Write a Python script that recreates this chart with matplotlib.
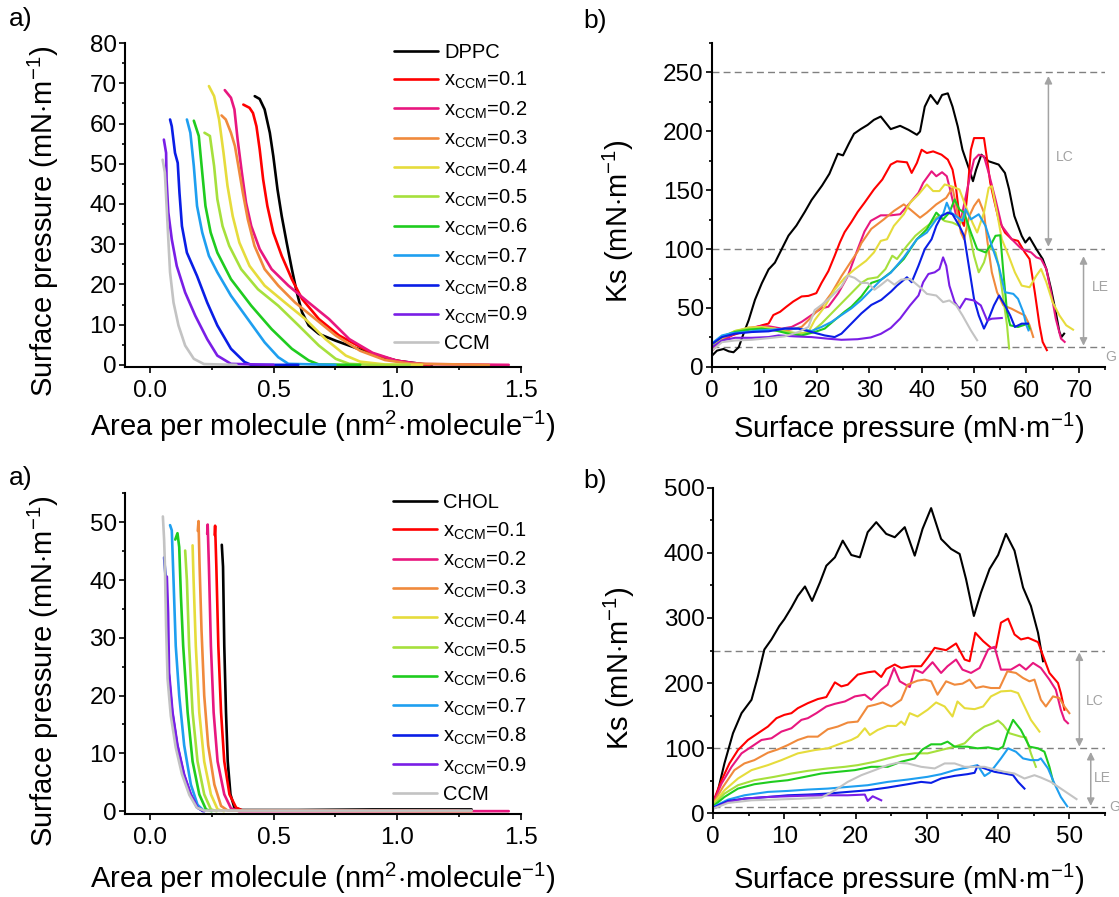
import matplotlib

matplotlib.use("Agg")

import matplotlib.pyplot as plt
from matplotlib.ticker import MultipleLocator

plt.rcParams.update({
    "font.family": ["Liberation Sans", "DejaVu Sans"],
    "mathtext.fontset": "custom",
    "mathtext.rm": "Liberation Sans",
    "mathtext.it": "Liberation Sans:italic",
    "mathtext.bf": "Liberation Sans:bold",
})

# ---- series names / colours (same order in every panel) ----
COLORS = ["#000000", "#ff0000", "#e8177f", "#f08a3c", "#e6dc3c", "#a6e03c",
          "#1fcc1f", "#1e9ff0", "#0a1ee6", "#7a1ee6", "#c3c3c3"]
MIX_LABELS = [r"x$_\mathregular{CCM}$=0.%d" % k for k in range(1, 10)]
LABELS_DPPC = ["DPPC"] + MIX_LABELS + ["CCM"]
LABELS_CHOL = ["CHOL"] + MIX_LABELS + ["CCM"]

# ---- a) top: DPPC/CCM isotherms, area (nm2/molecule) vs pressure (mN/m) ----
dppc_iso = ([0.424, 0.444, 0.464, 0.485, 0.499, 0.516, 0.533, 0.553, 0.574, 0.594, 0.615, 0.642, 0.683, 0.751, 0.85, 0.9, 1.0, 1.1, 1.14],
            [66.8, 66.1, 63.5, 57.7, 51.9, 43.6, 37.0, 30.4, 23.8, 18.0, 13.1, 9.8, 7.7, 6.0, 3.8, 2.6, 1.0, 0.2, 0.0])
dppc_x1_iso = ([0.378, 0.403, 0.417, 0.431, 0.444, 0.458, 0.475, 0.499, 0.533, 0.574, 0.615, 0.683, 0.765, 0.84, 0.9, 0.986, 1.06, 1.13],
               [64.7, 63.9, 62.6, 59.3, 53.6, 46.1, 39.5, 32.9, 27.1, 21.3, 16.4, 11.4, 7.3, 4.8, 2.8, 1.2, 0.4, 0.0])
dppc_x2_iso = ([0.303, 0.328, 0.342, 0.355, 0.372, 0.389, 0.41, 0.444, 0.492, 0.56, 0.642, 0.724, 0.806, 0.9, 1.0, 1.1, 1.45],
               [68.3, 66.4, 63.5, 56.0, 47.8, 40.3, 34.5, 28.8, 23.8, 19.7, 15.5, 11.4, 6.4, 3.0, 1.0, 0.2, 0.0])
dppc_x3_iso = ([0.29, 0.307, 0.328, 0.344, 0.358, 0.376, 0.396, 0.423, 0.464, 0.519, 0.587, 0.669, 0.751, 0.85, 0.95, 1.05, 1.37],
               [62.0, 61.0, 57.7, 54.4, 49.4, 42.8, 36.2, 29.6, 23.8, 19.7, 15.5, 11.4, 7.3, 3.5, 1.2, 0.3, 0.0])
dppc_x4_iso = ([0.239, 0.26, 0.28, 0.298, 0.314, 0.335, 0.362, 0.403, 0.464, 0.546, 0.628, 0.71, 0.792, 0.85, 0.95, 1.1],
               [69.3, 66.8, 61.0, 52.7, 44.5, 37.0, 30.4, 24.6, 19.7, 15.5, 11.4, 6.4, 2.3, 0.8, 0.1, 0.0])
dppc_x5_iso = ([0.221, 0.243, 0.26, 0.273, 0.294, 0.321, 0.369, 0.437, 0.519, 0.601, 0.683, 0.751, 0.806, 0.9, 1.05],
               [57.7, 56.9, 49.4, 41.2, 34.5, 29.6, 23.8, 18.8, 14.7, 9.8, 4.8, 1.5, 0.25, 0.0, 0.0])
dppc_x6_iso = ([0.178, 0.198, 0.212, 0.225, 0.246, 0.273, 0.328, 0.41, 0.492, 0.574, 0.642, 0.683, 0.85],
               [60.7, 56.9, 47.8, 39.5, 32.9, 27.9, 21.3, 14.7, 8.9, 4.0, 1.1, 0.1, 0.0])
dppc_x7_iso = ([0.15, 0.164, 0.178, 0.191, 0.212, 0.239, 0.273, 0.328, 0.396, 0.464, 0.519, 0.56, 0.75],
               [61.0, 57.7, 49.4, 39.5, 32.9, 27.1, 23.0, 17.2, 11.4, 5.6, 1.9, 0.25, 0.0])
dppc_x8_iso = ([0.082, 0.089, 0.102, 0.113, 0.12, 0.13, 0.15, 0.191, 0.232, 0.273, 0.328, 0.383, 0.41, 0.6],
               [61.0, 59.3, 52.7, 50.2, 42.8, 34.5, 27.9, 22.1, 15.5, 9.8, 4.0, 0.7, 0.0, 0.0])
dppc_x9_iso = ([0.057, 0.066, 0.068, 0.075, 0.089, 0.109, 0.143, 0.184, 0.232, 0.273, 0.328, 0.5],
               [56.0, 52.7, 46.0, 37.9, 31.2, 24.6, 18.0, 12.2, 6.4, 2.3, 0.25, 0.0])
ccm_iso_top = ([0.052, 0.061, 0.068, 0.075, 0.082, 0.096, 0.116, 0.143, 0.178, 0.219, 0.35],
               [51.0, 47.8, 39.5, 31.2, 23.0, 15.5, 9.8, 4.8, 1.5, 0.2, 0.0])

# ---- b) top: DPPC/CCM compressibility modulus Ks vs pressure ----
dppc_ks = ([0, 0.95, 2.2, 3.2, 4.1, 5.1, 6.0, 7.0, 8.2, 9.5, 10.8, 12.0, 13.3, 14.6, 16.1, 17.7, 19.0, 21.0, 22.4, 24.0, 25.0, 26.1, 27.1, 28.4, 29.7, 30.9, 32.2, 34.1, 35.9, 37.5, 39.1, 39.7, 40.6, 41.7, 43.0, 43.9, 45.0, 45.9, 46.9, 47.8, 49.1, 49.8, 50.4, 51.4, 52.8, 54.7, 55.9, 56.7, 57.7, 59.1, 59.8, 60.6, 61.9, 63.1, 63.8, 64.7, 65.6, 66.3, 66.7, 67.2],
           [9.5, 13.8, 15.2, 13.2, 12.4, 16.7, 28.0, 39.7, 57.0, 71.0, 82.8, 88.5, 100.0, 111.5, 120.0, 131.6, 141.7, 154.0, 164.0, 181.0, 179.6, 189.5, 198.0, 202.0, 205.5, 209.8, 212.6, 201.9, 204.7, 201.3, 197.1, 199.9, 221.0, 230.9, 223.3, 230.9, 232.3, 221.0, 204.1, 184.4, 167.5, 157.7, 167.5, 180.2, 174.6, 171.8, 164.7, 150.7, 128.1, 111.3, 105.6, 109.9, 100.0, 91.6, 83.1, 66.2, 46.5, 29.6, 25.4, 28.2])
dppc_x1_ks = ([0, 1.9, 3.8, 5.7, 7.6, 9.5, 10.8, 11.7, 13.0, 14.2, 15.5, 17.1, 18.4, 19.9, 20.9, 22.2, 23.4, 24.4, 25.3, 26.6, 27.8, 29.1, 30.9, 32.5, 34.1, 35.3, 37.2, 38.1, 39.1, 40.0, 41.0, 42.2, 43.8, 45.0, 45.9, 46.6, 47.2, 48.1, 48.8, 49.4, 50.0, 51.9, 52.5, 53.1, 53.8, 54.7, 55.9, 57.2, 58.4, 59.7, 60.6, 61.6, 62.5, 63.1, 63.9],
              [13.8, 22.4, 26.7, 29.6, 32.5, 35.3, 36.8, 44.0, 46.8, 51.1, 55.5, 59.8, 60.3, 62.6, 71.3, 81.3, 94.3, 105.7, 114.4, 123.0, 131.6, 139.4, 150.7, 159.1, 171.8, 174.6, 173.7, 164.7, 173.2, 184.4, 181.6, 183.0, 180.2, 176.0, 167.5, 150.7, 128.1, 119.7, 150.7, 184.4, 194.3, 194.3, 176.0, 156.3, 142.2, 125.3, 114.1, 108.4, 107.0, 97.2, 91.6, 63.4, 35.3, 21.2, 14.2])
dppc_x2_ks = ([0, 1.9, 4.4, 7.0, 8.9, 10.8, 13.3, 15.2, 17.1, 19.0, 20.9, 22.2, 24.1, 25.9, 27.8, 29.1, 30.3, 32.2, 34.1, 35.9, 37.8, 39.4, 40.3, 41.9, 42.8, 43.9, 44.8, 45.6, 46.6, 47.5, 49.1, 50.0, 50.9, 51.9, 52.8, 54.1, 55.3, 57.2, 59.1, 60.9, 61.9, 62.8, 63.8, 64.7, 65.6, 66.6, 67.3],
              [15.2, 23.0, 28.2, 32.5, 34.5, 34.5, 32.5, 33.9, 38.2, 44.0, 49.7, 51.1, 62.6, 77.0, 100.0, 115.0, 124.0, 128.7, 128.7, 129.6, 139.4, 147.8, 156.3, 166.1, 161.9, 165.3, 161.9, 147.8, 128.1, 125.0, 159.1, 176.0, 180.2, 178.8, 164.7, 142.2, 119.7, 108.4, 100.0, 97.2, 93.0, 91.6, 83.1, 63.4, 40.9, 24.0, 21.2])
dppc_x3_ks = ([0, 1.9, 4.4, 7.0, 9.5, 12.0, 13.9, 15.8, 17.1, 18.4, 19.6, 20.9, 22.8, 24.7, 26.6, 27.8, 28.5, 30.4, 32.8, 34.7, 36.6, 37.8, 39.7, 41.0, 42.8, 44.7, 45.9, 46.6, 47.5, 48.1, 49.1, 50.0, 50.9, 51.9, 52.5, 53.4, 54.4, 55.6, 57.2, 58.4, 59.7, 60.6, 61.3],
              [16.7, 23.9, 29.6, 33.3, 33.9, 32.5, 30.5, 32.5, 33.9, 39.7, 45.4, 51.1, 62.6, 77.0, 90.0, 98.0, 105.0, 117.2, 125.3, 132.4, 138.0, 133.8, 126.7, 131.0, 138.0, 143.6, 152.1, 136.6, 114.1, 108.4, 128.1, 136.6, 142.2, 131.0, 108.4, 80.3, 63.4, 52.2, 49.3, 46.5, 43.7, 35.3, 25.4])
dppc_x4_ks = ([0, 1.9, 4.4, 7.0, 9.5, 12.0, 13.9, 16.5, 18.4, 19.6, 21.5, 23.4, 25.3, 27.2, 29.4, 30.9, 32.2, 33.4, 34.7, 36.6, 37.8, 39.4, 41.0, 42.2, 43.4, 44.4, 45.6, 47.2, 48.4, 49.7, 50.6, 51.9, 52.8, 53.4, 54.4, 55.3, 56.6, 57.8, 59.1, 60.6, 61.9, 62.8, 63.8, 65.0, 66.3, 67.6, 68.9],
              [18.1, 24.7, 30.5, 33.3, 33.9, 32.5, 29.6, 28.2, 29.6, 39.7, 51.1, 65.5, 75.6, 82.8, 90.1, 97.2, 107.0, 108.4, 119.7, 129.6, 139.4, 146.4, 154.9, 149.3, 149.3, 154.9, 153.5, 150.7, 136.6, 122.5, 114.1, 131.0, 152.1, 153.5, 131.0, 108.4, 94.4, 80.3, 69.0, 67.6, 77.5, 83.1, 71.9, 55.0, 43.7, 35.3, 31.6])
dppc_x5_ks = ([0, 1.9, 4.4, 7.0, 9.5, 12.0, 14.6, 17.1, 19.0, 20.9, 22.8, 24.7, 26.6, 28.5, 29.7, 31.6, 33.1, 34.4, 35.3, 37.2, 38.8, 40.3, 41.9, 43.1, 44.4, 45.9, 47.2, 48.1, 49.1, 50.0, 50.9, 51.9, 52.8, 54.1, 54.7, 55.6, 56.3, 56.7],
              [19.0, 25.3, 30.5, 32.5, 32.5, 31.0, 29.6, 28.2, 29.6, 36.8, 45.4, 54.0, 62.6, 71.3, 74.7, 76.1, 83.1, 94.4, 91.6, 102.8, 111.3, 116.9, 122.5, 128.1, 123.9, 122.5, 119.7, 131.0, 114.1, 94.4, 80.3, 88.7, 102.8, 97.2, 85.9, 57.8, 35.3, 15.6])
dppc_x6_ks = ([0, 1.9, 4.4, 7.0, 9.5, 12.0, 14.6, 17.1, 19.6, 21.5, 23.4, 25.3, 26.6, 28.5, 30.4, 32.3, 34.1, 36.6, 39.1, 41.0, 42.8, 44.1, 45.3, 46.3, 47.2, 48.1, 49.4, 50.6, 52.2, 53.1, 54.1, 55.0, 55.6, 56.3, 56.9, 58.4, 60.3, 60.6],
              [19.5, 25.9, 29.6, 31.6, 32.5, 31.0, 28.2, 26.7, 29.6, 32.5, 39.7, 46.8, 51.1, 59.8, 71.3, 74.1, 80.3, 91.6, 108.4, 116.9, 131.0, 125.3, 131.0, 142.2, 133.8, 131.0, 114.1, 100.0, 97.2, 102.8, 111.3, 111.8, 80.3, 46.5, 35.3, 33.9, 36.7, 32.5])
dppc_x7_ks = ([0, 1.9, 3.8, 6.3, 8.9, 11.4, 13.9, 16.5, 19.0, 20.9, 22.8, 24.7, 26.6, 28.5, 30.4, 32.3, 34.1, 36.6, 39.1, 41.0, 42.8, 44.1, 44.8, 45.6, 46.6, 47.8, 48.4, 49.4, 50.9, 52.2, 53.4, 54.7, 55.9, 57.5, 58.4, 59.4, 60.0, 60.4],
              [20.1, 26.7, 28.7, 29.6, 31.0, 31.6, 32.5, 32.5, 30.5, 33.9, 38.2, 44.0, 49.7, 56.9, 65.5, 74.1, 79.9, 93.0, 108.4, 114.1, 125.3, 129.6, 139.4, 131.0, 128.1, 123.9, 133.8, 125.3, 129.6, 119.7, 102.8, 85.9, 63.4, 62.0, 57.8, 46.5, 35.3, 31.0])
dppc_x8_ks = ([0, 1.9, 4.4, 7.6, 10.8, 13.9, 16.5, 19.0, 21.5, 23.4, 24.7, 26.6, 28.5, 30.4, 32.3, 34.2, 35.3, 37.2, 38.1, 39.4, 40.6, 41.9, 42.8, 43.8, 45.0, 45.9, 47.2, 48.1, 49.1, 50.0, 50.9, 51.9, 52.8, 53.8, 54.8, 55.9, 56.9, 57.8, 59.1, 60.3],
              [19.5, 25.3, 28.2, 29.6, 30.2, 32.5, 32.5, 29.6, 26.7, 25.3, 28.2, 36.8, 45.4, 52.6, 56.9, 64.1, 69.0, 76.1, 71.9, 85.9, 100.0, 108.4, 119.7, 128.1, 131.0, 129.6, 119.7, 111.3, 83.1, 57.8, 43.7, 32.5, 40.9, 52.2, 60.6, 52.2, 43.7, 33.9, 36.7, 36.7])
dppc_x9_ks = ([0, 1.9, 4.4, 7.6, 10.8, 12.7, 15.8, 19.0, 22.2, 24.7, 27.8, 30.3, 32.2, 34.1, 35.9, 37.8, 39.4, 40.3, 41.3, 42.5, 43.4, 44.1, 44.7, 45.3, 46.3, 47.2, 48.4, 50.0, 51.3, 52.5, 53.4, 55.3],
              [16.7, 22.4, 24.7, 24.7, 25.3, 26.7, 25.9, 25.3, 23.9, 23.0, 23.5, 25.0, 28.0, 33.0, 41.0, 52.2, 60.6, 71.9, 78.9, 80.3, 83.1, 93.0, 85.9, 69.0, 55.0, 49.3, 57.8, 56.4, 52.2, 39.5, 40.9, 41.5])
ccm_ks_top = ([0, 1.9, 4.4, 7.6, 10.8, 13.9, 16.5, 18.4, 19.6, 20.9, 22.8, 24.7, 25.9, 27.2, 28.5, 29.7, 31.0, 32.3, 33.5, 34.8, 36.1, 37.8, 39.7, 41.0, 42.8, 44.1, 45.3, 46.6, 47.8, 49.4, 50.6],
              [13.8, 21.0, 22.4, 23.0, 24.4, 25.9, 29.6, 33.9, 48.3, 52.6, 59.8, 68.4, 77.6, 75.6, 71.3, 71.3, 65.5, 69.8, 74.1, 69.8, 74.1, 74.7, 67.6, 62.0, 60.6, 55.0, 56.4, 52.2, 43.7, 31.0, 22.6])

# ---- a) bottom: CHOL/CCM isotherms ----
chol_iso = ([0.291, 0.296, 0.301, 0.308, 0.315, 0.326, 0.342, 0.37, 0.6, 0.9, 1.3],
            [46.1, 42.3, 28.6, 17.1, 8.6, 2.9, 0.6, 0.2, 0.2, 0.3, 0.3])
chol_x1_iso = ([0.262, 0.264, 0.269, 0.277, 0.288, 0.301, 0.322, 0.349, 0.376, 0.8, 1.25],
               [47.8, 49.4, 42.3, 28.6, 17.1, 8.6, 2.9, 0.6, 0.1, 0.1, 0.1])
chol_x2_iso = ([0.232, 0.234, 0.239, 0.247, 0.258, 0.274, 0.301, 0.328, 0.36, 1.45],
               [48.0, 49.6, 42.3, 28.6, 17.1, 8.6, 2.9, 0.5, 0.0, 0.0])
chol_x3_iso = ([0.194, 0.197, 0.201, 0.209, 0.22, 0.236, 0.261, 0.288, 0.315, 1.3],
               [48.5, 50.2, 42.9, 31.4, 20.0, 11.4, 4.6, 0.9, 0.1, 0.0])
chol_x4_iso = ([0.173, 0.177, 0.186, 0.2, 0.22, 0.247, 0.274, 0.3],
               [46.0, 40.0, 28.6, 17.1, 8.6, 2.9, 0.3, 0.0])
chol_x5_iso = ([0.143, 0.15, 0.159, 0.173, 0.193, 0.22, 0.247, 0.27],
               [45.1, 40.0, 28.6, 17.1, 8.6, 2.9, 0.3, 0.0])
chol_x6_iso = ([0.103, 0.112, 0.119, 0.126, 0.135, 0.153, 0.173, 0.2, 0.227, 0.25],
               [47.0, 48.1, 45.7, 37.1, 28.6, 17.1, 8.6, 2.9, 0.3, 0.0])
chol_x7_iso = ([0.082, 0.089, 0.096, 0.105, 0.119, 0.139, 0.166, 0.193, 0.22],
               [49.5, 48.6, 40.0, 28.6, 20.0, 11.4, 4.6, 1.1, 0.0])
chol_x8_iso = ([0.058, 0.065, 0.07, 0.076, 0.09, 0.11, 0.137, 0.164, 0.19, 0.215],
               [43.9, 40.0, 32.0, 24.0, 17.3, 11.6, 6.4, 3.0, 0.7, 0.0])
chol_x9_iso = ([0.069, 0.074, 0.078, 0.092, 0.112, 0.139, 0.166, 0.193, 0.22],
               [40.6, 34.3, 24.0, 17.1, 11.4, 6.3, 2.9, 0.6, 0.0])
ccm_iso_bot = ([0.053, 0.058, 0.061, 0.066, 0.072, 0.085, 0.105, 0.13, 0.16, 0.19, 0.22, 1.3],
               [51.0, 47.0, 42.9, 32.0, 22.9, 16.5, 11.0, 6.4, 2.8, 0.6, 0.1, 0.1])

# ---- b) bottom: CHOL/CCM Ks vs pressure ----
chol_ks = ([0, 0.7, 1.6, 2.8, 4.0, 5.4, 6.3, 7.2, 8.2, 9.3, 10.0, 11.0, 11.9, 12.9, 13.9, 15.0, 15.9, 17.1, 18.2, 19.4, 20.6, 21.7, 22.9, 24.3, 25.5, 26.9, 28.3, 29.4, 30.6, 32.0, 33.4, 34.6, 35.5, 36.6, 37.6, 38.8, 40.0, 41.1, 42.3, 43.5, 44.6, 45.6, 46.3],
           [11.9, 35.0, 76.3, 122.7, 153.6, 174.2, 210.3, 251.5, 267.0, 287.6, 298.0, 316.0, 334.0, 348.5, 326.3, 354.6, 380.4, 393.3, 419.0, 396.9, 393.3, 432.0, 447.4, 429.4, 424.2, 439.7, 395.9, 437.1, 469.0, 421.6, 406.2, 398.5, 359.8, 303.1, 339.2, 375.3, 396.9, 429.4, 403.6, 346.9, 318.6, 277.3, 233.5])
chol_x1_ks = ([0, 1.2, 2.3, 3.5, 4.9, 6.3, 7.7, 8.9, 10.0, 11.0, 11.9, 13.3, 14.7, 15.9, 17.1, 18.0, 18.9, 20.3, 21.7, 22.7, 23.6, 24.3, 25.5, 26.4, 27.8, 29.2, 30.1, 31.1, 32.7, 34.1, 35.3, 36.0, 36.8, 37.9, 39.0, 39.7, 40.4, 41.4, 42.3, 43.2, 44.2, 45.6, 46.5, 47.2, 48.4, 48.8, 49.3],
              [17.0, 50.5, 76.3, 96.9, 112.4, 122.7, 133.0, 145.9, 151.0, 153.6, 161.3, 169.0, 175.3, 178.4, 201.0, 194.8, 197.4, 212.9, 216.5, 218.0, 209.3, 221.6, 228.4, 223.2, 225.8, 225.8, 238.7, 254.1, 250.5, 260.8, 236.1, 233.5, 277.3, 264.4, 254.1, 254.1, 292.8, 299.0, 274.7, 267.0, 269.6, 262.9, 236.1, 215.5, 200.0, 184.5, 158.8])
chol_x2_ks = ([0, 1.2, 2.6, 4.0, 5.4, 6.8, 8.2, 9.6, 11.0, 12.4, 13.3, 14.5, 15.9, 17.1, 18.5, 19.9, 21.3, 22.2, 23.6, 24.5, 25.4, 26.2, 27.6, 28.3, 29.4, 30.8, 32.0, 32.9, 34.1, 35.0, 36.2, 37.4, 38.6, 39.5, 40.4, 41.8, 43.0, 43.9, 44.9, 46.0, 47.2, 48.1, 48.8, 49.3, 49.8],
              [15.5, 45.4, 71.1, 91.8, 102.1, 112.4, 115.0, 125.3, 130.4, 143.3, 145.9, 153.6, 163.9, 168.0, 171.6, 179.4, 182.0, 174.2, 189.7, 197.4, 223.2, 202.6, 193.8, 220.6, 215.5, 232.0, 215.5, 225.8, 236.1, 220.6, 215.5, 223.2, 251.5, 255.7, 220.6, 220.6, 228.4, 220.6, 230.9, 223.2, 205.2, 189.7, 158.8, 143.3, 138.1])
chol_x3_ks = ([0, 1.4, 3.0, 4.4, 5.8, 7.7, 9.1, 10.5, 11.9, 13.3, 14.7, 16.1, 17.5, 18.9, 20.3, 21.7, 22.7, 23.8, 25.0, 26.4, 27.3, 28.7, 29.7, 30.6, 31.5, 32.7, 33.9, 35.0, 36.0, 36.9, 37.9, 39.0, 40.2, 41.3, 42.5, 43.5, 44.4, 45.1, 46.0, 46.7, 47.7, 48.6, 49.3, 50.0],
              [14.4, 40.2, 66.0, 76.3, 81.4, 92.8, 97.9, 104.6, 112.4, 117.5, 117.5, 128.9, 133.0, 139.2, 140.7, 163.9, 166.5, 170.1, 163.9, 174.2, 197.4, 203.6, 205.2, 202.6, 182.0, 202.6, 197.4, 199.0, 205.2, 192.3, 194.8, 192.3, 192.3, 218.0, 215.5, 207.7, 202.6, 205.2, 174.2, 163.9, 179.4, 176.8, 163.9, 153.6])
chol_x4_ks = ([0, 1.6, 3.5, 5.4, 7.7, 9.6, 11.9, 14.3, 16.1, 18.0, 19.4, 20.3, 21.3, 22.0, 23.1, 24.5, 25.7, 26.4, 26.9, 27.6, 28.7, 30.1, 31.3, 32.5, 33.6, 34.3, 35.3, 36.7, 37.9, 39.0, 40.4, 41.8, 42.8, 43.7, 44.6, 45.8],
              [13.4, 35.0, 53.1, 66.0, 73.7, 81.4, 91.8, 96.9, 99.5, 107.2, 112.4, 117.5, 130.4, 120.1, 127.8, 134.0, 134.0, 140.7, 135.6, 153.6, 148.5, 158.8, 170.1, 163.9, 148.5, 171.6, 161.3, 159.8, 163.9, 179.4, 187.1, 188.1, 184.5, 163.9, 143.3, 125.3])
chol_x5_ks = ([0, 1.6, 3.5, 5.8, 8.6, 11.0, 13.3, 16.1, 18.5, 20.3, 22.7, 24.5, 26.4, 28.3, 30.1, 32.0, 33.9, 35.3, 36.7, 38.1, 39.3, 40.0, 40.7, 41.6, 43.2, 43.9, 44.6, 45.3],
              [11.9, 29.9, 42.8, 50.5, 55.7, 60.8, 64.9, 68.6, 71.1, 73.7, 78.9, 84.0, 89.2, 91.8, 91.8, 96.9, 102.1, 107.2, 122.7, 133.0, 138.1, 142.3, 135.6, 122.7, 117.5, 116.5, 91.8, 71.1])
chol_x6_ks = ([0, 1.6, 3.5, 5.8, 8.2, 10.5, 12.9, 15.2, 17.5, 19.9, 22.2, 24.5, 26.4, 28.3, 29.4, 30.6, 32.0, 32.9, 33.9, 35.7, 37.1, 38.6, 40.0, 40.7, 41.3, 42.1, 43.2, 44.4, 45.6, 46.5, 47.2, 47.8],
              [10.3, 24.7, 37.6, 44.3, 47.9, 50.5, 55.7, 60.8, 63.4, 66.0, 71.1, 71.1, 78.9, 84.0, 97.9, 105.7, 105.7, 109.8, 102.1, 102.1, 99.5, 101.0, 97.9, 102.1, 122.7, 143.3, 127.8, 102.1, 99.5, 94.3, 71.1, 45.0])
chol_x7_ks = ([0, 2.1, 4.4, 7.7, 10.5, 13.3, 16.1, 18.9, 21.7, 24.5, 27.3, 30.1, 32.0, 33.9, 35.7, 37.1, 38.1, 38.8, 39.5, 40.4, 41.4, 42.5, 43.5, 44.6, 45.6, 46.0, 47.0, 47.9, 48.8, 49.7],
              [9.3, 20.6, 27.3, 32.5, 34.0, 36.1, 37.6, 40.2, 42.8, 47.9, 51.5, 55.7, 59.8, 66.0, 70.1, 73.7, 57.0, 62.0, 71.1, 84.0, 99.5, 94.3, 84.0, 81.4, 81.4, 84.0, 68.6, 45.4, 24.7, 10.3])
chol_x8_ks = ([0, 2.1, 4.4, 7.7, 10.5, 13.3, 16.1, 18.9, 21.7, 24.5, 27.3, 29.2, 30.6, 32.0, 33.9, 35.7, 36.7, 37.1, 38.1, 39.5, 40.9, 42.1, 42.8, 43.7],
              [8.2, 18.6, 22.2, 24.7, 27.3, 28.4, 29.9, 32.5, 35.0, 39.2, 44.3, 47.9, 46.4, 53.1, 57.2, 59.8, 61.9, 72.2, 68.6, 63.4, 60.8, 58.2, 47.9, 37.6])
chol_x9_ks = ([0, 2.1, 4.4, 7.7, 10.5, 13.3, 16.1, 18.9, 21.3, 21.7, 22.4, 23.6],
              [6.7, 17.0, 22.2, 24.7, 25.8, 26.8, 27.3, 27.3, 28.4, 18.6, 25.8, 19.6])
ccm_ks_bot = ([0, 2.1, 5.4, 8.6, 12.4, 15.2, 17.1, 18.9, 20.8, 22.7, 24.5, 25.9, 27.3, 29.2, 31.1, 32.5, 33.9, 35.3, 36.7, 38.1, 39.5, 40.9, 42.3, 43.7, 45.1, 46.0, 47.4, 48.8, 50.2, 51.0],
              [6.7, 15.5, 19.6, 20.6, 22.2, 23.7, 35.0, 47.9, 58.2, 66.0, 73.7, 77.3, 76.3, 71.1, 68.6, 76.3, 76.3, 71.1, 71.1, 71.1, 67.0, 63.4, 60.8, 53.1, 58.2, 54.6, 47.9, 37.6, 27.3, 21.4])

ISO_TOP = [dppc_iso, dppc_x1_iso, dppc_x2_iso, dppc_x3_iso, dppc_x4_iso, dppc_x5_iso,
           dppc_x6_iso, dppc_x7_iso, dppc_x8_iso, dppc_x9_iso, ccm_iso_top]
KS_TOP = [dppc_ks, dppc_x1_ks, dppc_x2_ks, dppc_x3_ks, dppc_x4_ks, dppc_x5_ks,
          dppc_x6_ks, dppc_x7_ks, dppc_x8_ks, dppc_x9_ks, ccm_ks_top]
ISO_BOT = [chol_iso, chol_x1_iso, chol_x2_iso, chol_x3_iso, chol_x4_iso, chol_x5_iso,
           chol_x6_iso, chol_x7_iso, chol_x8_iso, chol_x9_iso, ccm_iso_bot]
KS_BOT = [chol_ks, chol_x1_ks, chol_x2_ks, chol_x3_ks, chol_x4_ks, chol_x5_ks,
          chol_x6_ks, chol_x7_ks, chol_x8_ks, chol_x9_ks, ccm_ks_bot]

# phase boundaries on the Ks panels (G / LE / LC)
KS_LEVELS_TOP = [17, 100, 250]
KS_LEVELS_BOT = [10, 100, 250]

GUIDE = "#a3a3a3"
PI_LABEL = r"Surface pressure (mN$\cdot$m$^{-1}$)"
KS_LABEL = r"Ks (mN$\cdot$m$^{-1}$)"
AREA_LABEL = r"Area per molecule (nm$^2$$\cdot$molecule$^{-1}$)"


def style_axes(ax):
    for s in ("top", "right"):
        ax.spines[s].set_visible(False)
    for s in ("left", "bottom"):
        ax.spines[s].set_linewidth(1.5)
    ax.tick_params(which="both", direction="out", width=1.2, labelsize=17.5)
    ax.tick_params(which="major", length=4.5)
    ax.tick_params(which="minor", length=2.5)
    ax.tick_params(axis="x", which="both", pad=5)
    ax.tick_params(axis="y", which="both", pad=1.5)


def isotherm_panel(ax, series, labels, ymax, anchor, xlab_y, ylab_y):
    for (x, y), c, lab in zip(series, COLORS, labels):
        ax.plot(x, y, color=c, lw=1.9, label=lab, solid_capstyle="round")
    ax.set_xlim(-0.1, 1.5)
    ax.set_ylim(-0.5, ymax)
    ax.xaxis.set_major_locator(MultipleLocator(0.5))
    ax.xaxis.set_minor_locator(MultipleLocator(0.25))
    ax.yaxis.set_major_locator(MultipleLocator(10))
    ax.yaxis.set_minor_locator(MultipleLocator(5))
    ax.set_xlabel(AREA_LABEL, fontsize=21)
    ax.set_ylabel(PI_LABEL, fontsize=21)
    ax.xaxis.set_label_coords(0.5, xlab_y)
    ax.yaxis.set_label_coords(-0.162, ylab_y)
    style_axes(ax)
    ax.legend(loc="upper left", bbox_to_anchor=anchor, frameon=False, fontsize=14.5,
              handlelength=2.2, handletextpad=0.28, labelspacing=0.4,
              borderpad=0, borderaxespad=0)


def ks_panel(ax, series, levels, xmax, ymax, xstep, ystep, lc_x, le_x, texts,
             xlab_y, ylab_y):
    for (x, y), c in zip(series, COLORS):
        ax.plot(x, y, color=c, lw=1.5)
    for lvl in levels:
        ax.axhline(lvl, color="#808080", lw=1.0, ls=(0, (5, 3)), zorder=0)
    arrow = dict(arrowstyle="<|-|>", color=GUIDE, lw=1.1, mutation_scale=11,
                 shrinkA=0, shrinkB=0)
    ax.annotate("", xy=(lc_x, levels[1] + 2), xytext=(lc_x, levels[2] - 3),
                arrowprops=arrow)
    ax.annotate("", xy=(le_x, levels[0] + 1), xytext=(le_x, levels[1] - 6),
                arrowprops=arrow)
    for (tx, ty, s) in texts:
        ax.text(tx, ty, s, color=GUIDE, fontsize=10, ha="center", va="center",
                clip_on=False)
    ax.set_xlim(0, xmax)
    ax.set_ylim(0, ymax)
    ax.xaxis.set_major_locator(MultipleLocator(xstep))
    ax.xaxis.set_minor_locator(MultipleLocator(xstep / 2))
    ax.yaxis.set_major_locator(MultipleLocator(ystep))
    ax.yaxis.set_minor_locator(MultipleLocator(ystep / 2))
    ax.set_xlabel(PI_LABEL, fontsize=21)
    ax.set_ylabel(KS_LABEL, fontsize=21)
    ax.xaxis.set_label_coords(0.5, xlab_y)
    ax.yaxis.set_label_coords(-0.193, ylab_y)
    style_axes(ax)


fig = plt.figure(figsize=(11.19, 8.97), dpi=100)

ax1 = fig.add_axes([0.1117, 0.591, 0.354, 0.361])
ax2 = fig.add_axes([0.6363, 0.591, 0.3512, 0.361])
ax3 = fig.add_axes([0.1117, 0.0925, 0.354, 0.3575])
ax4 = fig.add_axes([0.6372, 0.0936, 0.3503, 0.3624])

isotherm_panel(ax1, ISO_TOP, LABELS_DPPC, 80, (0.679, 1.0), -0.13, 0.45)
isotherm_panel(ax3, ISO_BOT, LABELS_CHOL, 55, (0.676, 1.0), -0.145, 0.444)

ks_panel(ax2, KS_TOP, KS_LEVELS_TOP, 75, 275, 10, 50, 64.2, 70.9,
         [(67.4, 178, "LC"), (74.1, 68, "LE"), (76.0, 8, "G")], -0.135, 0.45)
ks_panel(ax4, KS_BOT, KS_LEVELS_BOT, 55, 500, 10, 100, 51.4, 53.0,
         [(53.6, 172, "LC"), (54.6, 54, "LE"), (56.3, 10, "G")], -0.15, 0.445)

for x, y, s in [(0.008, 0.992, "a)"), (0.521, 0.99, "b)"),
                (0.008, 0.48, "a)"), (0.521, 0.477, "b)")]:
    fig.text(x, y, s, fontsize=19, ha="left", va="top")

fig.savefig("out.png", dpi=100, facecolor="white")
